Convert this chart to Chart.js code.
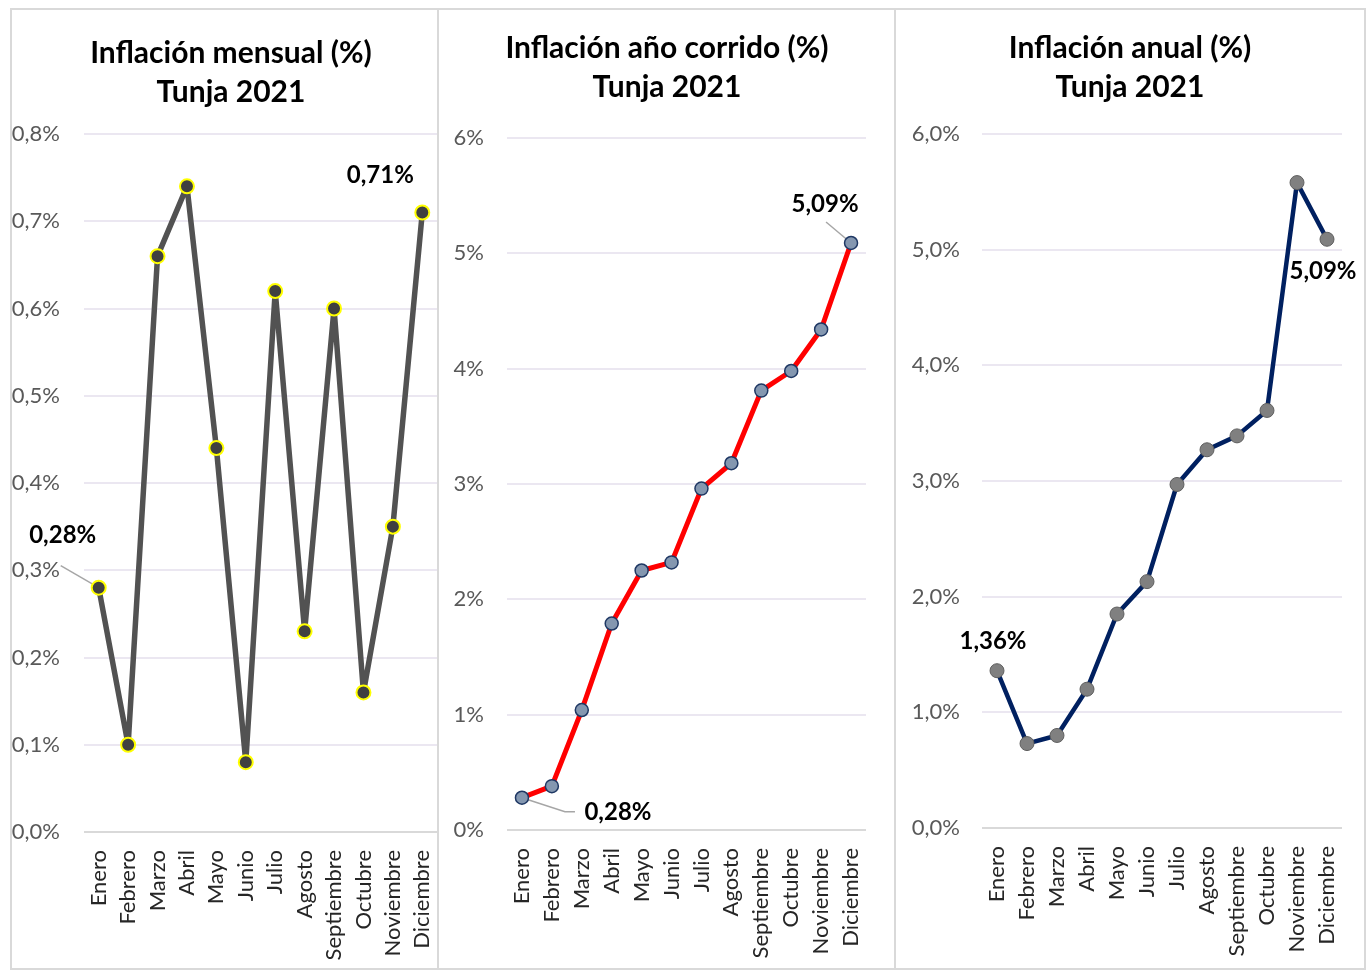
<!DOCTYPE html>
<html>
<head>
<meta charset="utf-8">
<script src="https://cdn.jsdelivr.net/npm/chart.js@4.4.1/dist/chart.umd.min.js"></script>
<style>
  body { margin: 0; background: #fff; width: 1372px; height: 972px; position: relative; overflow: hidden; }
  .panel { position: absolute; top: 8px; height: 962px; box-sizing: border-box; border: 2px solid #d9d9d9; }
  canvas { position: absolute; top: 8px; }
</style>
</head>
<body>
<div class="panel" style="left:10px;width:429px;"></div>
<div class="panel" style="left:437px;width:459px;border-left:none;"></div>
<div class="panel" style="left:894px;width:472px;border-left:none;"></div>
<canvas id="mensual" width="445" height="962" style="left:10px"></canvas>
<canvas id="corrido" width="459" height="962" style="left:437px"></canvas>
<canvas id="anual" width="472" height="962" style="left:894px"></canvas>
<script>
// Months
const months = ['Enero', 'Febrero', 'Marzo', 'Abril', 'Mayo', 'Junio', 'Julio',
  'Agosto', 'Septiembre', 'Octubre', 'Noviembre', 'Diciembre'];

// Inflation values (%), Tunja 2021
const mensual = [0.28, 0.10, 0.66, 0.74, 0.44, 0.08, 0.62, 0.23, 0.60, 0.16, 0.35, 0.71];
const corrido = [0.28, 0.38, 1.04, 1.79, 2.25, 2.32, 2.96, 3.18, 3.81, 3.98, 4.34, 5.09];
const anual = [1.36, 0.73, 0.80, 1.20, 1.85, 2.13, 2.97, 3.27, 3.39, 3.61, 5.58, 5.09];

const FONT = 'Lato, "Open Sans", sans-serif';

// two line title, centred where the panel wants it
const panelTitle = {
  id: 'panelTitle',
  afterDraw(chart, args, opts) {
    const ctx = chart.ctx;
    ctx.save();
    ctx.font = 'bold 30px ' + FONT;
    ctx.fillStyle = '#000';
    ctx.textAlign = 'center';
    ctx.textBaseline = 'middle';
    opts.lines.forEach((t, i) => ctx.fillText(t, opts.x, opts.y + i * 39));
    ctx.restore();
  }
};

// labels next to some points, with optional leader lines
const pointLabels = {
  id: 'pointLabels',
  beforeDatasetsDraw(chart, args, opts) {
    const ctx = chart.ctx;
    const meta = chart.getDatasetMeta(0);
    (opts.items || []).forEach(item => {
      if (!item.leader) return;
      const pt = meta.data[item.index];
      ctx.save();
      ctx.strokeStyle = '#a6a6a6';
      ctx.lineWidth = 1.5;
      ctx.beginPath();
      item.leader.forEach((p, i) => {
        const x = pt.x + p[0], y = pt.y + p[1];
        if (i === 0) ctx.moveTo(x, y); else ctx.lineTo(x, y);
      });
      ctx.stroke();
      ctx.restore();
    });
  },
  afterDatasetsDraw(chart, args, opts) {
    const ctx = chart.ctx;
    const meta = chart.getDatasetMeta(0);
    (opts.items || []).forEach(item => {
      const pt = meta.data[item.index];
      const v = chart.data.datasets[0].data[item.index];
      ctx.save();
      ctx.font = 'bold 24px ' + FONT;
      ctx.fillStyle = '#000';
      ctx.textAlign = 'center';
      ctx.textBaseline = 'middle';
      ctx.fillText(v.toFixed(2).replace('.', ',') + '%', pt.x + item.dx, pt.y + item.dy);
      ctx.restore();
    });
  }
};

function makeChart(id, opt) {
  const ctx = document.getElementById(id).getContext('2d');
  return new Chart(ctx, {
    type: 'line',
    data: {
      labels: months,
      datasets: [{
        data: opt.data,
        borderColor: opt.lineColor,
        borderWidth: opt.lineWidth,
        borderJoinStyle: 'round',
        borderCapStyle: 'round',
        pointRadius: opt.pointRadius,
        pointBackgroundColor: opt.pointFill,
        pointBorderColor: opt.pointBorder,
        pointBorderWidth: opt.pointBorderWidth,
        tension: 0,
        fill: false
      }]
    },
    options: {
      responsive: false,
      animation: false,
      events: [],
      layout: { padding: { left: 0, right: opt.padRight, top: opt.padTop, bottom: 0 } },
      scales: {
        x: {
          offset: true,
          grid: { display: false },
          border: { display: false },
          ticks: {
            autoSkip: false,
            maxRotation: 90,
            minRotation: 90,
            padding: 10,
            color: '#262626',
            font: { family: FONT, size: 22 }
          },
          afterFit(scale) {
            scale.height = opt.xHeight;
            scale.paddingLeft = 0;
            scale.paddingRight = 0;
          }
        },
        y: {
          min: 0,
          max: opt.max,
          border: { display: false },
          grid: {
            drawTicks: false,
            lineWidth: 2,
            color: c => c.tick.value === 0 ? '#d9d9d9' : '#ebe7f1'
          },
          ticks: {
            stepSize: opt.step,
            padding: opt.tickPad,
            color: '#595959',
            font: { family: FONT, size: 22 },
            callback: v => v.toFixed(opt.decimals).replace('.', ',') + '%'
          },
          afterFit(scale) { scale.width = opt.yWidth; }
        }
      },
      plugins: {
        legend: { display: false },
        tooltip: { enabled: false },
        title: { display: false },
        panelTitle: { lines: [opt.title, 'Tunja 2021'], x: opt.titleX, y: opt.titleY },
        pointLabels: { items: opt.labels }
      }
    },
    plugins: [pointLabels, panelTitle]
  });
}

makeChart('mensual', {
  title: 'Inflación mensual (%)',
  data: mensual,
  lineColor: '#525252',
  lineWidth: 5.5,
  pointRadius: 7,
  pointFill: '#404040',
  pointBorder: '#ffff00',
  pointBorderWidth: 2,
  max: 0.8, step: 0.1, decimals: 1,
  yWidth: 74, padRight: 18, padTop: 126, xHeight: 138, tickPad: 24,
  titleX: 221, titleY: 45,
  labels: [
    { index: 0, dx: -36, dy: -52, leader: [[-38, -22], [0, 0]] },
    { index: 11, dx: -42, dy: -37 }
  ]
});

makeChart('corrido', {
  title: 'Inflación año corrido (%)',
  data: corrido,
  lineColor: '#ff0000',
  lineWidth: 5,
  pointRadius: 6.5,
  pointFill: '#8497b0',
  pointBorder: '#1f3864',
  pointBorderWidth: 1.5,
  max: 6, step: 1, decimals: 0,
  yWidth: 70, padRight: 30, padTop: 130, xHeight: 140, tickPad: 23,
  titleX: 230, titleY: 40,
  labels: [
    { index: 0, dx: 96, dy: 15, leader: [[0, 0], [43, 14], [53, 14]] },
    { index: 11, dx: -26, dy: -39, leader: [[-25, -21], [0, 0]] }
  ]
});

makeChart('anual', {
  title: 'Inflación anual (%)',
  data: anual,
  lineColor: '#002060',
  lineWidth: 4.5,
  pointRadius: 7,
  pointFill: '#808080',
  pointBorder: '#5f5f5f',
  pointBorderWidth: 1,
  max: 6, step: 1, decimals: 1,
  yWidth: 88, padRight: 24, padTop: 126, xHeight: 142, tickPad: 22,
  titleX: 236, titleY: 40,
  labels: [
    { index: 0, dx: -4, dy: -29 },
    { index: 11, dx: -4, dy: 32 }
  ]
});
</script>
</body>
</html>
